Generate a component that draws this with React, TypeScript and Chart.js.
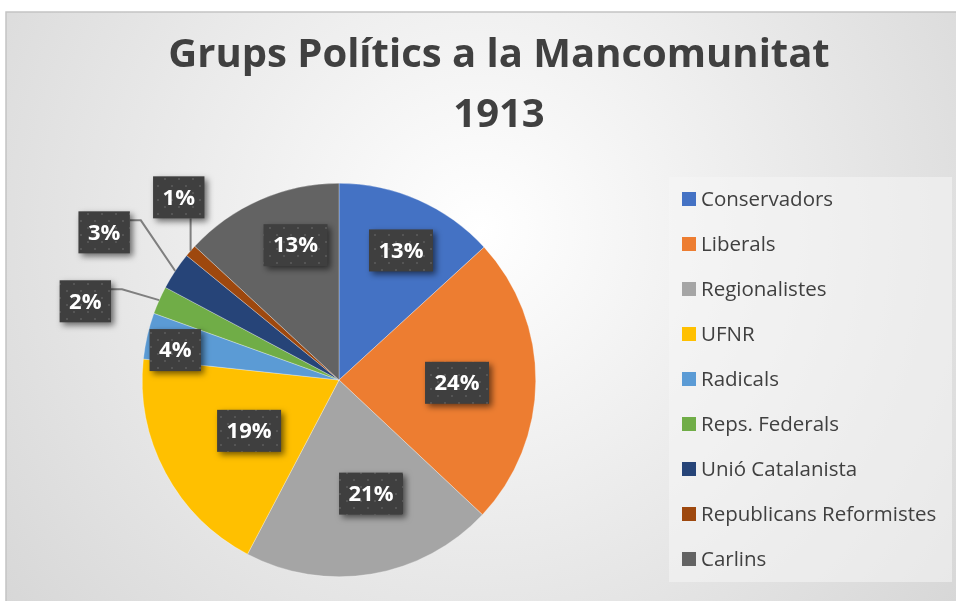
import React, { useEffect, useRef } from "react";
import { Chart, registerables } from "chart.js";

Chart.register(...registerables);

const categories = [
  "Conservadors",
  "Liberals",
  "Regionalistes",
  "UFNR",
  "Radicals",
  "Reps. Federals",
  "Unió Catalanista",
  "Republicans Reformistes",
  "Carlins",
];
const seriesValues = [13.2, 23.8, 20.7, 19.0, 3.8, 2.3, 3.1, 1.0, 13.1];
const sliceColors = [
  "#4472C4",
  "#ED7D31",
  "#A5A5A5",
  "#FFC000",
  "#5B9BD5",
  "#70AD47",
  "#264478",
  "#9E480E",
  "#636363",
];
const titleLines = ["Grups Polítics a la Mancomunitat", "1913"];

// label placement relative to each slice: [radius ratio, angle offset in degrees]
const labelPlacement: number[][] = [
  [0.73, 1.8],
  [0.6, 1],
  [0.6, -6.2],
  [0.525, -1.4],
  [0.846, -2.6],
  [1.35, -6.7],
  [1.41, -1.5],
  [1.235, 7.7],
  [0.72, 5.7],
];

const FONT = "'Open Sans', 'Noto Sans', sans-serif";

function makePattern(ctx: CanvasRenderingContext2D) {
  const c = document.createElement("canvas");
  c.width = 14;
  c.height = 14;
  const p = c.getContext("2d")!;
  p.fillStyle = "#3f3f3f";
  p.fillRect(0, 0, 14, 14);
  p.fillStyle = "#555555";
  p.fillRect(3, 3, 2, 2);
  p.fillRect(10, 10, 2, 2);
  return ctx.createPattern(c, "repeat");
}

const framePlugin = {
  id: "framePlugin",
  beforeDraw(chart: any) {
    const ctx = chart.ctx as CanvasRenderingContext2D;
    const W = chart.width;
    const H = chart.height;
    ctx.save();
    ctx.fillStyle = "#ffffff";
    ctx.fillRect(0, 0, W, H);
    const g = ctx.createRadialGradient(480, 230, 0, 480, 230, 620);
    g.addColorStop(0, "#ffffff");
    g.addColorStop(1, "#d6d6d6");
    ctx.fillStyle = g;
    ctx.fillRect(6, 12, W, H);
    ctx.strokeStyle = "#c4c4c4";
    ctx.lineWidth = 1.5;
    ctx.beginPath();
    ctx.moveTo(6, H + 5);
    ctx.lineTo(6, 12);
    ctx.lineTo(W + 5, 12);
    ctx.stroke();

    // title
    ctx.fillStyle = "#404040";
    ctx.font = `bold 40px ${FONT}`;
    ctx.textAlign = "center";
    ctx.textBaseline = "alphabetic";
    ctx.fillText(titleLines[0], 499, 67);
    ctx.fillText(titleLines[1], 499, 127);
    ctx.restore();
  },
};

const legendPlugin = {
  id: "customLegend",
  afterDraw(chart: any) {
    const ctx = chart.ctx as CanvasRenderingContext2D;
    ctx.save();
    ctx.fillStyle = "rgba(245,245,245,0.55)";
    ctx.fillRect(669, 177, 283, 405);
    const labels = chart.data.labels as string[];
    const colors = chart.data.datasets[0].backgroundColor as string[];
    ctx.font = `20.5px ${FONT}`;
    ctx.textAlign = "left";
    ctx.textBaseline = "middle";
    labels.forEach((lab, i) => {
      const y = 199 + i * 45;
      ctx.fillStyle = colors[i];
      ctx.fillRect(682, y - 7, 14, 14);
      ctx.fillStyle = "#404040";
      ctx.fillText(lab, 701, y + 1);
    });
    ctx.restore();
  },
};

const labelPlugin = {
  id: "pctLabels",
  afterDatasetsDraw(chart: any) {
    const ctx = chart.ctx as CanvasRenderingContext2D;
    const meta = chart.getDatasetMeta(0);
    const data = chart.data.datasets[0].data as number[];
    const total = data.reduce((a, b) => a + b, 0);
    const pattern = makePattern(ctx);
    ctx.save();
    ctx.font = `bold 22px ${FONT}`;
    meta.data.forEach((arc: any, i: number) => {
      const p = arc.getProps(["x", "y", "startAngle", "endAngle", "outerRadius"], true);
      const mid = (p.startAngle + p.endAngle) / 2;
      const [ratio, off] = labelPlacement[i];
      const a = mid + (off * Math.PI) / 180;
      const cx = p.x + Math.cos(a) * p.outerRadius * ratio;
      const cy = p.y + Math.sin(a) * p.outerRadius * ratio;
      const text = Math.round((data[i] / total) * 100) + "%";
      const tw = ctx.measureText(text).width;
      const bw = tw + 19;
      const bh = 42;
      const bx = cx - bw / 2;
      const by = cy - bh / 2;

      if (ratio > 1) {
        const ax = p.x + Math.cos(mid) * p.outerRadius;
        const ay = p.y + Math.sin(mid) * p.outerRadius;
        ctx.strokeStyle = "#7f7f7f";
        ctx.lineWidth = 2;
        ctx.beginPath();
        if (ax >= bx && ax <= bx + bw && ay > by + bh) {
          ctx.moveTo(ax, by + bh);
          ctx.lineTo(ax, ay);
        } else {
          const ly = by + 9;
          ctx.moveTo(bx + bw, ly);
          ctx.lineTo(bx + bw + 11, ly);
          ctx.lineTo(ax, ay);
        }
        ctx.stroke();
      }

      ctx.save();
      ctx.shadowColor = "rgba(0,0,0,0.55)";
      ctx.shadowBlur = 6;
      ctx.shadowOffsetX = 3;
      ctx.shadowOffsetY = 3;
      ctx.fillStyle = pattern || "#404040";
      ctx.fillRect(bx, by, bw, bh);
      ctx.restore();

      ctx.fillStyle = "#ffffff";
      ctx.textAlign = "center";
      ctx.textBaseline = "middle";
      ctx.fillText(text, cx, cy + 1);
    });
    ctx.restore();
  },
};

export default function App() {
  const ref = useRef<HTMLCanvasElement>(null);
  useEffect(() => {
    if (!ref.current) return;
    const chart = new Chart(ref.current, {
      type: "pie",
      data: {
        labels: categories,
        datasets: [
          {
            data: seriesValues,
            backgroundColor: sliceColors,
            borderWidth: 0.5,
            borderColor: "rgba(255,255,255,0.6)",
          },
        ],
      },
      options: {
        responsive: false,
        animation: false,
        devicePixelRatio: 1,
        layout: { padding: { top: 183, bottom: 24, left: 142, right: 420 } },
        plugins: {
          legend: { display: false },
          title: { display: false },
          tooltip: { enabled: false },
        },
      },
      plugins: [framePlugin, legendPlugin, labelPlugin],
    });
    return () => chart.destroy();
  }, []);
  return (
    <div style={{ position: "fixed", left: 0, top: 0, width: 956, height: 601 }}>
      <canvas ref={ref} width={956} height={601} style={{ display: "block" }} />
    </div>
  );
}
